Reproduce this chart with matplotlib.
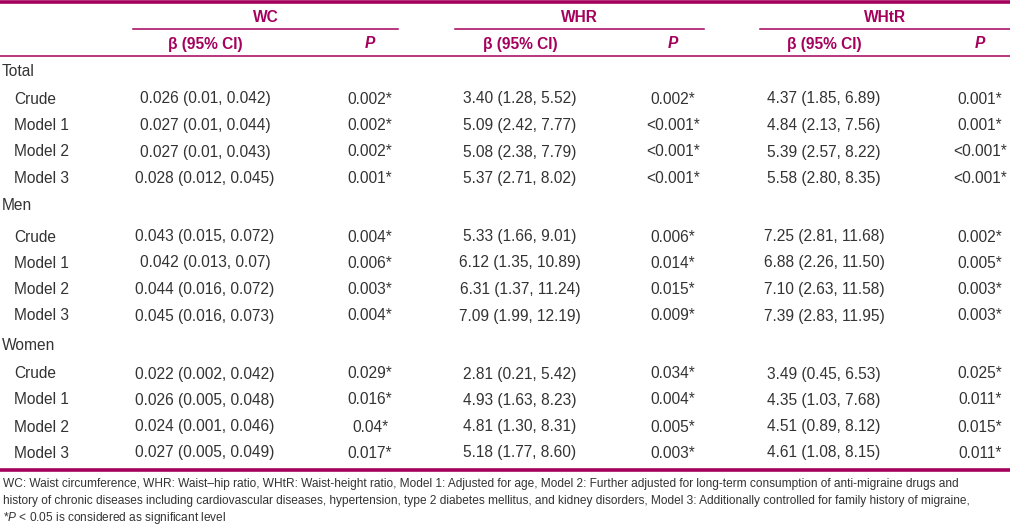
import matplotlib
matplotlib.use("Agg")
import matplotlib.pyplot as plt

plt.rcParams['font.family'] = ['Liberation Sans', 'DejaVu Sans']
plt.rcParams['mathtext.fontset'] = 'custom'
plt.rcParams['mathtext.rm'] = 'Liberation Sans'
plt.rcParams['mathtext.it'] = 'Liberation Sans:italic'

# table content
measures = ["WC", "WHR", "WHtR"]
groups = ["Total", "Men", "Women"]
models = ["Crude", "Model 1", "Model 2", "Model 3"]

wc_beta = ["0.026 (0.01, 0.042)", "0.027 (0.01, 0.044)", "0.027 (0.01, 0.043)", "0.028 (0.012, 0.045)",
           "0.043 (0.015, 0.072)", "0.042 (0.013, 0.07)", "0.044 (0.016, 0.072)", "0.045 (0.016, 0.073)",
           "0.022 (0.002, 0.042)", "0.026 (0.005, 0.048)", "0.024 (0.001, 0.046)", "0.027 (0.005, 0.049)"]
wc_p = ["0.002*", "0.002*", "0.002*", "0.001*",
        "0.004*", "0.006*", "0.003*", "0.004*",
        "0.029*", "0.016*", "0.04*", "0.017*"]
whr_beta = ["3.40 (1.28, 5.52)", "5.09 (2.42, 7.77)", "5.08 (2.38, 7.79)", "5.37 (2.71, 8.02)",
            "5.33 (1.66, 9.01)", "6.12 (1.35, 10.89)", "6.31 (1.37, 11.24)", "7.09 (1.99, 12.19)",
            "2.81 (0.21, 5.42)", "4.93 (1.63, 8.23)", "4.81 (1.30, 8.31)", "5.18 (1.77, 8.60)"]
whr_p = ["0.002*", "<0.001*", "<0.001*", "<0.001*",
         "0.006*", "0.014*", "0.015*", "0.009*",
         "0.034*", "0.004*", "0.005*", "0.003*"]
whtr_beta = ["4.37 (1.85, 6.89)", "4.84 (2.13, 7.56)", "5.39 (2.57, 8.22)", "5.58 (2.80, 8.35)",
             "7.25 (2.81, 11.68)", "6.88 (2.26, 11.50)", "7.10 (2.63, 11.58)", "7.39 (2.83, 11.95)",
             "3.49 (0.45, 6.53)", "4.35 (1.03, 7.68)", "4.51 (0.89, 8.12)", "4.61 (1.08, 8.15)"]
whtr_p = ["0.001*", "0.001*", "<0.001*", "<0.001*",
          "0.002*", "0.005*", "0.003*", "0.003*",
          "0.025*", "0.011*", "0.015*", "0.011*"]

footnote = ["WC: Waist circumference, WHR: Waist\u2013hip ratio, WHtR: Waist-height ratio, Model 1: Adjusted for age, "
            "Model 2: Further adjusted for long-term consumption of anti-migraine drugs and",
            "history of chronic diseases including cardiovascular diseases, hypertension, type 2 diabetes mellitus, "
            "and kidney disorders, Model 3: Additionally controlled for family history of migraine,",
            "*$P$ < 0.05 is considered as significant level"]

# layout (pixels)
W, H = 1010, 524
mag = '#A4005C'
txt = '#333333'
fs = 11.2
off = 5.5  # baseline offset from row centre
beta_x = [205, 520, 824]
p_x = [370, 673, 980]
span = [(133, 398), (455, 704), (760, 1010)]
group_y = [71, 205, 345]
row_y = [[98, 124.5, 151, 177.5], [236, 262, 288.5, 315], [373, 399, 426, 452]]

fig = plt.figure(figsize=(W / 100, H / 100), dpi=100)
ax = fig.add_axes([0, 0, 1, 1])
ax.set_xlim(0, W)
ax.set_ylim(H, 0)
ax.axis('off')

# rules
ax.plot([0, W], [1.5, 1.5], color=mag, lw=2.6, solid_capstyle='butt')
for x0, x1 in span:
    ax.plot([x0, x1], [29, 29], color=mag, lw=1.1)
ax.plot([0, W], [56, 56], color=mag, lw=1.1)
ax.plot([0, W], [469.5, 469.5], color=mag, lw=2.6, solid_capstyle='butt')

# header
for i, m in enumerate(measures):
    ax.text((span[i][0] + span[i][1]) / 2, 16 + off, m, ha='center', va='baseline',
            fontsize=fs, fontweight='bold', color=mag)
    ax.text(beta_x[i], 43 + off, "\u03b2 (95% CI)", ha='center', va='baseline',
            fontsize=fs, fontweight='bold', color=mag)
    ax.text(p_x[i], 43 + off, "P", ha='center', va='baseline',
            fontsize=fs, fontweight='bold', fontstyle='italic', color=mag)

# body
cols = [wc_beta, wc_p, whr_beta, whr_p, whtr_beta, whtr_p]
col_x = [beta_x[0], p_x[0], beta_x[1], p_x[1], beta_x[2], p_x[2]]
for g, grp in enumerate(groups):
    ax.text(2, group_y[g] + off, grp, ha='left', va='baseline', fontsize=fs, color=txt)
    for r, mod in enumerate(models):
        k = g * 4 + r
        y = row_y[g][r] + off
        ax.text(14, y, mod, ha='left', va='baseline', fontsize=fs, color=txt)
        for c in range(6):
            ax.text(col_x[c], y, cols[c][k], ha='center', va='baseline', fontsize=fs, color=txt)

# footnote
for i, line in enumerate(footnote):
    ax.text(3, 484 + i * 17, line, ha='left', va='center', fontsize=8.6, color=txt)

fig.savefig("out.png", dpi=100)
